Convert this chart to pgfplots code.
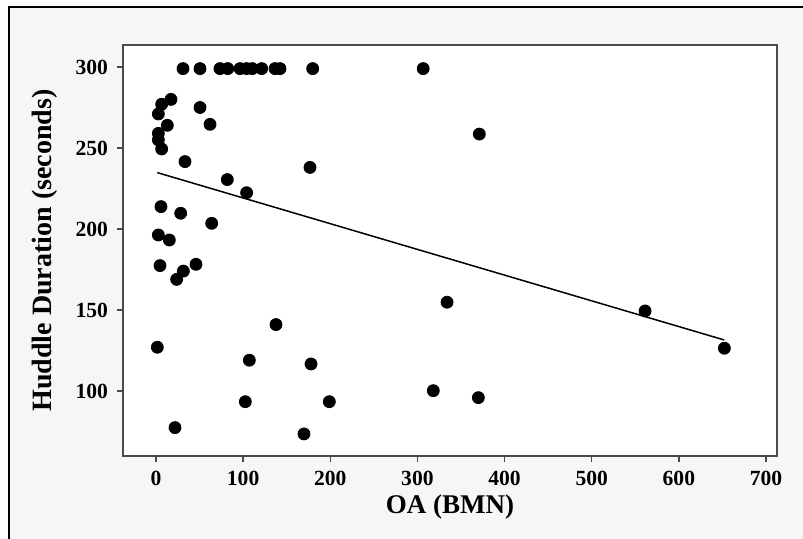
\documentclass[border=0pt]{standalone}
\usepackage{fontspec}
\setmainfont{Liberation Serif}
\usepackage{pgfplots}
\pgfplotsset{compat=1.18}
\usepackage{pgfplotstable}
\definecolor{bggray}{HTML}{F6F6F6}
\definecolor{framegray}{HTML}{4A4A4A}

\pgfplotstableread{
x y
31.0 299
50.5 299
73.4 299
82.3 299
96.4 299
104.0 299
110.5 299
121.3 299
136.6 299
142.3 299
179.8 299
306.6 299
17.2 280
6.5 277
2.7 271
50.5 275
13.0 264
62.0 264.6
2.7 259
2.7 255
6.5 249.4
33.3 241.6
176.7 238
81.8 230.5
104.0 222.4
5.7 213.8
28.3 209.7
63.9 203.5
2.7 196.3
15.3 193.2
4.6 177.4
45.9 178.2
31.4 174
23.7 168.9
137.7 141
1.5 127
107.1 119
177.9 116.7
102.5 93.4
198.9 93.4
21.8 77.4
169.8 73.5
371.0 258.6
334.0 154.8
318.2 100.2
369.9 95.9
561.2 149.4
652.2 126.4
}\pts

\begin{document}
\begin{tikzpicture}[x=1pt,y=1pt]
\fill[bggray] (4.5,0) rectangle (401.5,266);
\draw[black, line width=0.6pt] (4.5,0) -- (4.5,266) -- (401.5,266);
\begin{axis}[
  at={(61.5pt,41.5pt)}, anchor=south west,
  scale only axis, width=327pt, height=205.5pt,
  xmin=-37.87, xmax=712.6, ymin=59.88, ymax=313.58,
  xtick={0,100,...,700}, ytick={100,150,...,300},
  xtick pos=bottom, ytick pos=left,
  tick align=outside, major tick length=3pt,
  axis background/.style={fill=white},
  axis line style={draw=framegray, line width=0.7pt},
  every tick/.style={draw=framegray, line width=0.7pt},
  /pgf/number format/assume math mode=true,
  tick label style={font=\fontsize{10.8}{12}\selectfont\bfseries},
  xticklabel style={yshift=-1pt},
  yticklabel style={xshift=-1pt},
  xlabel={OA (BMN)},
  ylabel={Huddle Duration (seconds)},
  xlabel style={font=\fontsize{13.5}{16}\selectfont\bfseries, at={(axis description cs:0.5,-0.124)}, anchor=center},
  ylabel style={font=\fontsize{14}{16}\selectfont\bfseries, at={(axis description cs:-0.1193,0.5)}, anchor=center},
  clip=false,
]
\addplot[only marks, mark=*, mark size=3pt, black] table[x=x,y=y] {\pts};
\addplot[black, line width=0.75pt] coordinates {(1.5,234.8) (652,131.5)};
\end{axis}
\pgfresetboundingbox
\useasboundingbox (0,0) rectangle (401.5,269.5);
\end{tikzpicture}
\end{document}
